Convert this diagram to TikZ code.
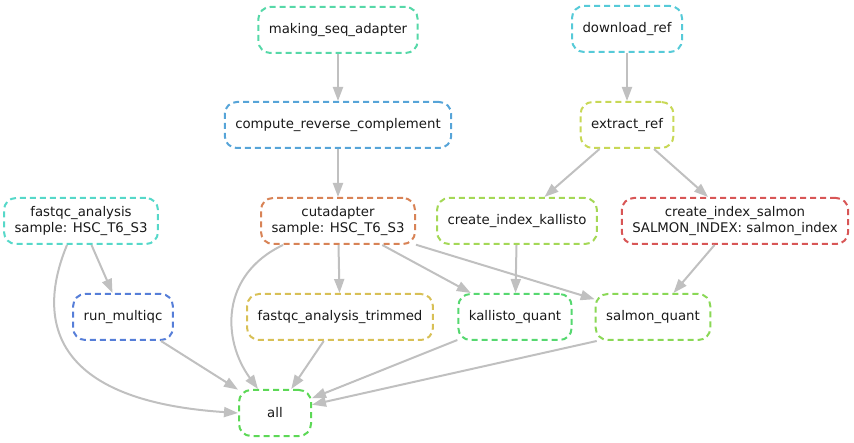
\documentclass[tikz,border=0pt]{standalone}
\usepackage{fontspec}
\setmainfont{DejaVu Sans}
\usepackage{xcolor}
\usetikzlibrary{arrows.meta}

% rule colours
\definecolor{cseqadapter}{RGB}{86,216,168}
\definecolor{cdownload}{RGB}{86,202,216}
\definecolor{crevcomp}{RGB}{86,164,216}
\definecolor{cextract}{RGB}{200,216,86}
\definecolor{cfastqc}{RGB}{86,216,201}
\definecolor{ccutadapt}{RGB}{216,131,86}
\definecolor{ckalidx}{RGB}{164,216,86}
\definecolor{csalidx}{RGB}{216,86,86}
\definecolor{cmultiqc}{RGB}{86,126,216}
\definecolor{ctrimmed}{RGB}{216,192,86}
\definecolor{ckalquant}{RGB}{86,216,112}
\definecolor{csalquant}{RGB}{138,216,86}
\definecolor{call}{RGB}{92,216,86}
\definecolor{edgegray}{RGB}{192,192,192}

\begin{document}
\begin{tikzpicture}[x=1pt,y=-1pt,
  rulebox/.style={draw=#1, line width=2pt, dash pattern=on 6pt off 4pt,
    rounded corners=12pt, minimum width=72pt, minimum height=46pt,
    inner xsep=10.5pt, align=center, text=black!90,
    font=\fontsize{13.3}{15.5}\selectfont},
  dagedge/.style={draw=edgegray, line width=2pt,
    -{Triangle[length=14pt,width=10pt]}}]

\useasboundingbox (0,0) rectangle (854,443);

% top row
\node[rulebox=cseqadapter] (seqadapter) at (338,30) {making\_seq\_adapter};
\node[rulebox=cdownload] (download) at (627,29) {download\_ref};

% second row
\node[rulebox=crevcomp] (revcomp) at (338,125) {compute\_reverse\_complement};
\node[rulebox=cextract] (extract) at (627,125) {extract\_ref};

% third row
\node[rulebox=cfastqc] (fastqc) at (81,221) {fastqc\_analysis\\sample: HSC\_T6\_S3};
\node[rulebox=ccutadapt] (cutadapt) at (338,221) {cutadapter\\sample: HSC\_T6\_S3};
\node[rulebox=ckalidx] (kalidx) at (517,221) {create\_index\_kallisto};
\node[rulebox=csalidx] (salidx) at (735,221) {create\_index\_salmon\\SALMON\_INDEX: salmon\_index};

% fourth row
\node[rulebox=cmultiqc] (multiqc) at (123,317) {run\_multiqc};
\node[rulebox=ctrimmed] (trimmed) at (340,317) {fastqc\_analysis\_trimmed};
\node[rulebox=ckalquant] (kalquant) at (515,317) {kallisto\_quant};
\node[rulebox=csalquant] (salquant) at (653,317) {salmon\_quant};

% target
\node[rulebox=call] (all) at (275,413) {all};

% dependencies
\draw[dagedge] (seqadapter) -- (revcomp);
\draw[dagedge] (revcomp) -- (cutadapt);
\draw[dagedge] (download) -- (extract);
\draw[dagedge] (extract) -- (kalidx);
\draw[dagedge] (extract) -- (salidx);
\draw[dagedge] (fastqc) -- (multiqc);
\draw[dagedge] (cutadapt) -- (trimmed);
\draw[dagedge] (cutadapt) -- (kalquant);
\draw[dagedge] (cutadapt) -- (salquant);
\draw[dagedge] (kalidx) -- (kalquant);
\draw[dagedge] (salidx) -- (salquant);

% everything into all
\draw[dagedge] ([xshift=-14pt]fastqc.south) .. controls (40,310) and (40,400) .. (all.west);
\draw[dagedge] ([xshift=23pt]cutadapt.south west) .. controls (220,275) and (222,340) .. ([xshift=-17pt]all.north);
\draw[dagedge] (multiqc) -- (all);
\draw[dagedge] (trimmed) -- (all);
\draw[dagedge] (kalquant) -- (all);
\draw[dagedge] ([xshift=2pt]salquant.south west) -- (all);

\end{tikzpicture}
\end{document}
